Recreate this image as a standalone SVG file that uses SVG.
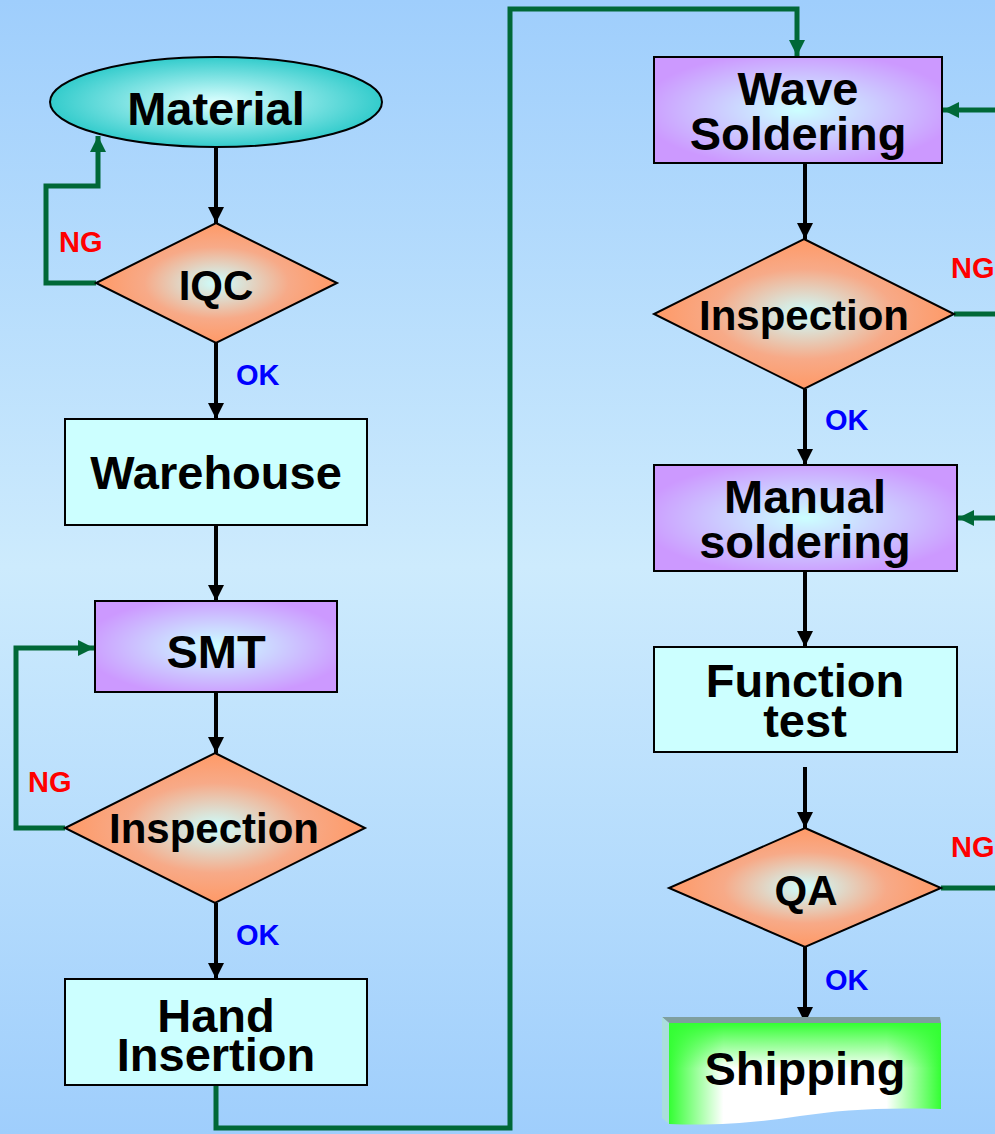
<svg xmlns="http://www.w3.org/2000/svg" width="995" height="1134" viewBox="0 0 995 1134">
<defs>
<linearGradient id="bg" x1="0" y1="0" x2="0" y2="1">
<stop offset="0" stop-color="#9fcefc"/>
<stop offset="0.5" stop-color="#cdebfd"/>
<stop offset="1" stop-color="#9fcefc"/>
</linearGradient>
<radialGradient id="gEll" cx="0.5" cy="0.5" r="0.5">
<stop offset="0" stop-color="#dcffff"/>
<stop offset="1" stop-color="#33cccc"/>
</radialGradient>
<radialGradient id="gDia" cx="0.5" cy="0.5" r="0.5">
<stop offset="0" stop-color="#ccffff"/>
<stop offset="0.6" stop-color="#f7aa88"/>
<stop offset="1" stop-color="#ff9966"/>
</radialGradient>
<radialGradient id="gPur" cx="0.5" cy="0.5" r="0.55">
<stop offset="0" stop-color="#ccffff"/>
<stop offset="1" stop-color="#cc99ff"/>
</radialGradient>
<linearGradient id="gShipH" x1="0" y1="0" x2="1" y2="0">
<stop offset="0" stop-color="#33ff33"/>
<stop offset="0.2" stop-color="#ffffff"/>
<stop offset="0.8" stop-color="#ffffff"/>
<stop offset="1" stop-color="#33ff33"/>
</linearGradient>
<linearGradient id="gShipV" x1="0" y1="0" x2="0" y2="1">
<stop offset="0" stop-color="#33ff33" stop-opacity="1"/>
<stop offset="0.45" stop-color="#33ff33" stop-opacity="0"/>
<stop offset="1" stop-color="#33ff33" stop-opacity="0"/>
</linearGradient>
<marker id="ab" viewBox="0 0 16 18" refX="16" refY="9" markerWidth="16" markerHeight="18" markerUnits="userSpaceOnUse" orient="auto">
<path d="M0,1 L16,9 L0,17 Z" fill="#000"/>
</marker>
<marker id="ag" viewBox="0 0 16 18" refX="16" refY="9" markerWidth="16" markerHeight="18" markerUnits="userSpaceOnUse" orient="auto">
<path d="M0,1 L16,9 L0,17 Z" fill="#006837"/>
</marker>
</defs>
<style>
.t{font-family:"Liberation Sans",Arial,sans-serif;font-weight:bold;text-anchor:middle;fill:#000}
.big{font-size:47px}
.dia{font-size:42px}
.ng{font-family:"Liberation Sans",Arial,sans-serif;font-weight:bold;font-size:29px;fill:#ff0000}
.ok{font-family:"Liberation Sans",Arial,sans-serif;font-weight:bold;font-size:29px;fill:#0000ff}
.box{fill:#ccffff;stroke:#000;stroke-width:2}
.pur{fill:url(#gPur);stroke:#000;stroke-width:2}
.dm{fill:url(#gDia);stroke:#000;stroke-width:2}
.bl{stroke:#000;stroke-width:4;fill:none;marker-end:url(#ab)}
.gr{stroke:#006837;stroke-width:5;fill:none}
.gra{stroke:#006837;stroke-width:5;fill:none;marker-end:url(#ag)}
</style>
<rect x="0" y="0" width="995" height="1134" fill="url(#bg)"/>

<g id="connectors">
<line class="bl" x1="216" y1="148" x2="216" y2="223"/>
<line class="bl" x1="216" y1="343" x2="216" y2="419"/>
<line class="bl" x1="216" y1="525" x2="216" y2="601"/>
<line class="bl" x1="216" y1="692" x2="216" y2="753"/>
<line class="bl" x1="216" y1="903" x2="216" y2="979"/>
<line class="bl" x1="805" y1="163" x2="805" y2="239"/>
<line class="bl" x1="805" y1="389" x2="805" y2="465"/>
<line class="bl" x1="805" y1="571" x2="805" y2="647"/>
<line class="bl" x1="805" y1="767" x2="805" y2="828"/>
<line class="bl" x1="805" y1="947" x2="805" y2="1023"/>
<path class="gra" d="M96,283 H46 V186 H98 V136"/>
<path class="gra" d="M65,828 H16 V648 H94"/>
<path class="gra" d="M216,1085 V1128 H510 V9 H797 V56"/>
<path class="gra" d="M995,110 H943"/>
<path class="gr" d="M954,314 H995"/>
<path class="gra" d="M995,518 H958"/>
<path class="gr" d="M941,888 H995"/>
<text class="ng" x="59" y="252">NG</text>
<text class="ok" x="236" y="385">OK</text>
<text class="ng" x="28" y="792">NG</text>
<text class="ok" x="236" y="945">OK</text>
<text class="ng" x="951" y="278">NG</text>
<text class="ok" x="825" y="430">OK</text>
<text class="ng" x="951" y="857">NG</text>
<text class="ok" x="825" y="990">OK</text>
</g>

<g id="material">
<ellipse cx="216" cy="102" rx="166" ry="45" fill="url(#gEll)" stroke="#000" stroke-width="2"/>
<text class="t big" x="216" y="125">Material</text>
</g>
<g id="iqc">
<polygon class="dm" points="216,223 337,283 216,343 96,283"/>
<text class="t dia" x="216" y="300">IQC</text>
</g>
<g id="warehouse">
<rect class="box" x="65" y="419" width="302" height="106"/>
<text class="t big" x="216" y="489">Warehouse</text>
</g>
<g id="smt">
<rect class="pur" x="95" y="601" width="242" height="91"/>
<text class="t big" x="216" y="668">SMT</text>
</g>
<g id="inspection1">
<polygon class="dm" points="215,753 365,828 215,903 65,828"/>
<text class="t dia" x="214" y="843">Inspection</text>
</g>
<g id="hand-insertion">
<rect class="box" x="65" y="979" width="302" height="106"/>
<text class="t big" x="216" y="1032">Hand</text>
<text class="t big" x="216" y="1071">Insertion</text>
</g>
<g id="wave-soldering">
<rect class="pur" x="654" y="57" width="288" height="106"/>
<text class="t big" x="798" y="105">Wave</text>
<text class="t big" x="798" y="150">Soldering</text>
</g>
<g id="inspection2">
<polygon class="dm" points="804,239 954,314 804,389 654,314"/>
<text class="t dia" x="804" y="330">Inspection</text>
</g>
<g id="manual-soldering">
<rect class="pur" x="654" y="465" width="303" height="106"/>
<text class="t big" x="805" y="513">Manual</text>
<text class="t big" x="805" y="558">soldering</text>
</g>
<g id="function-test">
<rect class="box" x="654" y="647" width="303" height="105"/>
<text class="t big" x="805" y="697">Function</text>
<text class="t big" x="805" y="737">test</text>
</g>
<g id="qa">
<polygon class="dm" points="805,828 941,888 805,947 669,888"/>
<text class="t dia" x="806" y="905">QA</text>
</g>
<g id="shipping">
<polygon points="662,1017 940,1017 941,1023 669,1023" fill="#7f9f9f"/>
<polygon points="662,1017 669,1023 669,1124 662,1118" fill="#aadddd"/>
<path d="M669,1023 H941 V1109 C880,1107 840,1110 800,1116 C760,1122 720,1126 669,1124 Z" fill="url(#gShipH)"/>
<path d="M669,1023 H941 V1109 C880,1107 840,1110 800,1116 C760,1122 720,1126 669,1124 Z" fill="url(#gShipV)"/>
<text class="t big" x="805" y="1085">Shipping</text>
</g>
</svg>
